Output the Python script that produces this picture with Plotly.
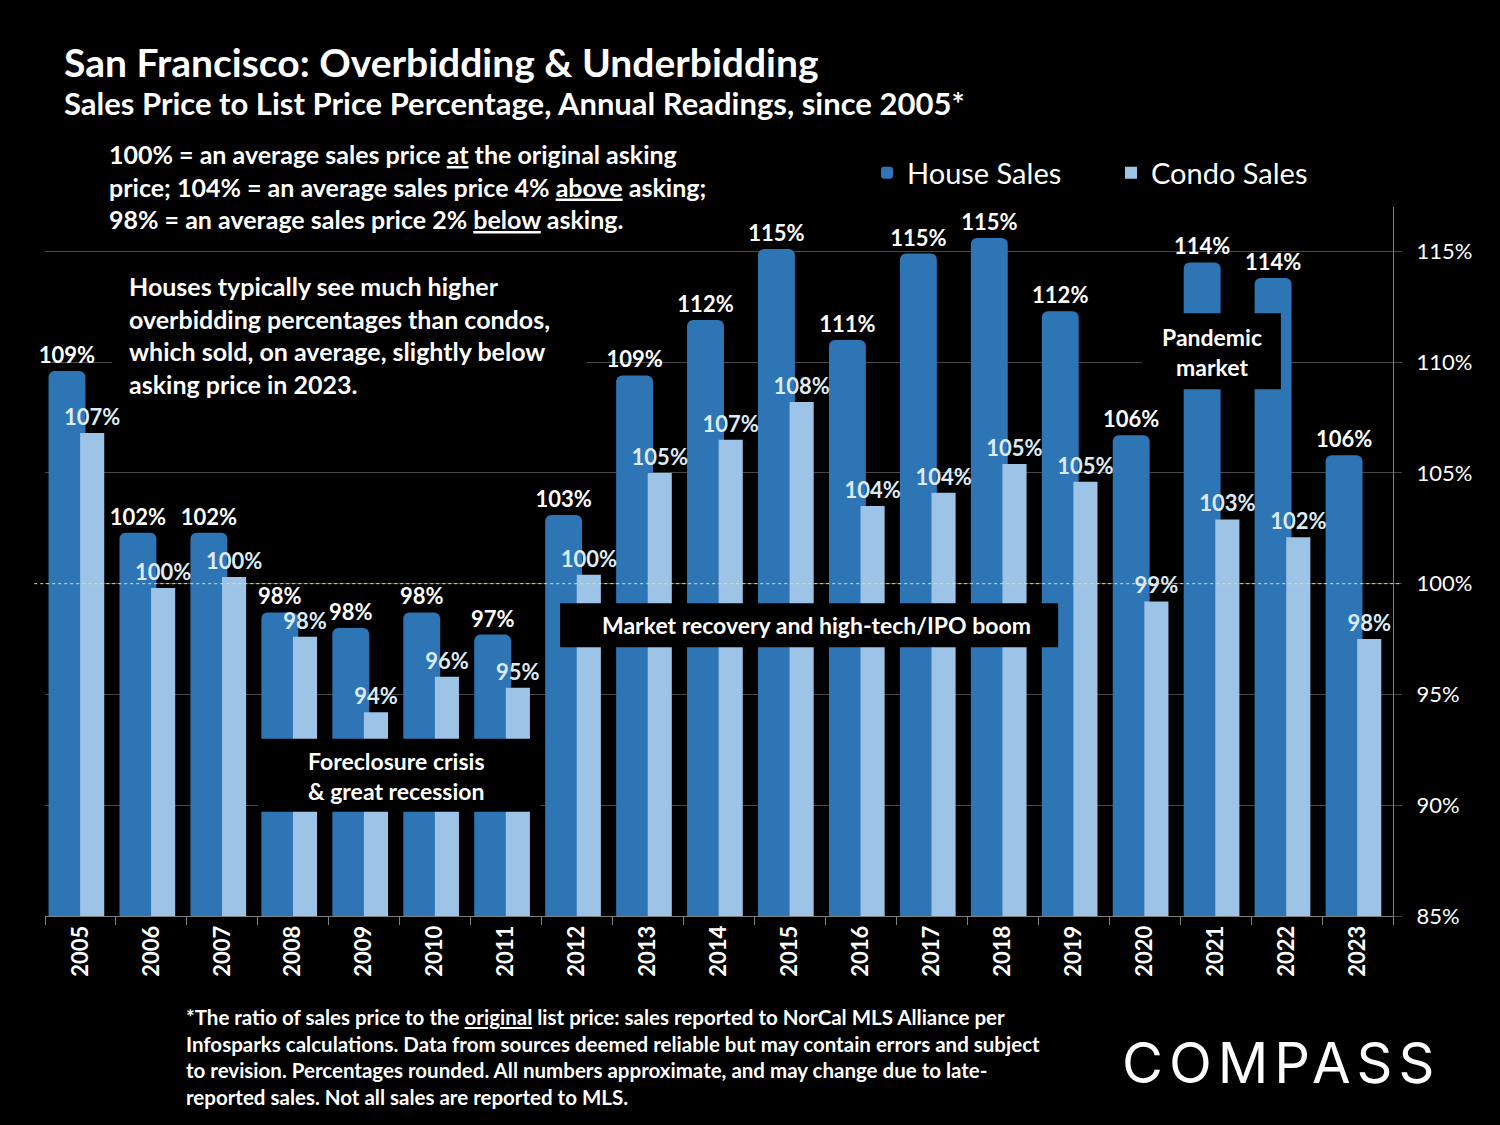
import plotly.graph_objects as go

years = [str(y) for y in range(2005, 2024)]
house_pct = [109.6, 102.3, 102.3, 98.7, 98.0, 98.7, 97.7, 103.1, 109.4, 111.9,
             115.1, 111.0, 114.9, 115.6, 112.3, 106.7, 114.5, 113.8, 105.8]
condo_pct = [106.8, 99.8, 100.3, 97.6, 94.2, 95.8, 95.3, 100.4, 105.0, 106.5,
             108.2, 103.5, 104.1, 105.4, 104.6, 99.2, 102.9, 102.1, 97.5]
house_labels = ["109%", "102%", "102%", "98%", "98%", "98%", "97%", "103%", "109%", "112%",
                "115%", "111%", "115%", "115%", "112%", "106%", "114%", "114%", "106%"]
condo_labels = ["107%", "100%", "100%", "98%", "94%", "96%", "95%", "100%", "105%", "107%",
                "108%", "104%", "104%", "105%", "105%", "99%", "103%", "102%", "98%"]
y_ticks = [85, 90, 95, 100, 105, 110, 115]
y_tick_text = ["85%", "90%", "95%", "100%", "105%", "110%", "115%"]

FONT = "Lato"
HOUSE_C = "#2E75B6"
CONDO_C = "#9DC3E6"

# plot area in pixels
L, R, T, B = 45, 1393, 207, 916
W, H = 1500, 1125


def px(x):
    return (x - L) / (R - L)


def py(y):
    return (B - y) / (B - T)


fig = go.Figure()
fig.add_trace(go.Bar(
    x=years, y=house_pct, name="House Sales",
    marker=dict(color=HOUSE_C, cornerradius=6, line=dict(width=0)),
    offset=-0.45, width=0.52,
    text=house_labels, textposition="outside", constraintext="none", cliponaxis=False,
    textfont=dict(family=FONT, size=22, color="white", weight="bold"),
))
fig.add_trace(go.Bar(
    x=years, y=condo_pct, name="Condo Sales",
    marker=dict(color=CONDO_C, line=dict(width=0)),
    offset=-0.005, width=0.34,
    text=condo_labels, textposition="outside", constraintext="none", cliponaxis=False,
    textfont=dict(family=FONT, size=22, color="#DDEBF7", weight="bold"),
))

shapes = [
    # 100% reference line
    dict(type="line", xref="paper", yref="y", x0=-0.008, x1=1.005, y0=100, y1=100,
         line=dict(color="#E8E86A", width=1, dash="dot"), layer="above"),
    # black annotation boxes
    dict(type="rect", xref="x", yref="y", x0=2.5, x1=6.48, y0=89.7, y1=93.0,
         fillcolor="black", line=dict(width=0), layer="above"),
    dict(type="rect", xref="x", yref="y", x0=6.76, x1=13.78, y0=97.13, y1=99.12,
         fillcolor="black", line=dict(width=0), layer="above"),
    dict(type="rect", xref="x", yref="y", x0=14.96, x1=16.92, y0=108.77, y1=112.2,
         fillcolor="black", line=dict(width=0), layer="above"),
    dict(type="rect", xref="paper", yref="paper", x0=px(112), x1=px(586), y0=py(405), y1=py(262),
         fillcolor="black", line=dict(width=0), layer="above"),
]

U = '<span style="text-decoration:underline">{}</span>'
ann = []
ann.append(dict(xref="paper", yref="paper", x=px(62), y=py(62), xanchor="left", yanchor="middle",
                text="<b>San Francisco: Overbidding &amp; Underbidding</b>", showarrow=False,
                font=dict(family=FONT, size=39, color="white")))
ann.append(dict(xref="paper", yref="paper", x=px(62), y=py(103), xanchor="left", yanchor="middle",
                text="<b>Sales Price to List Price Percentage, Annual Readings, since 2005*</b>",
                showarrow=False, font=dict(family=FONT, size=31, color="white")))
ann.append(dict(xref="paper", yref="paper", x=px(107), y=py(186), xanchor="left", yanchor="middle",
                align="left", showarrow=False,
                text=("<b>100% = an average sales price " + U.format("at") + " the original asking<br>"
                      "price; 104% = an average sales price 4% " + U.format("above") + " asking;<br>"
                      "98% = an average sales price 2% " + U.format("below") + " asking.</b>"),
                font=dict(family=FONT, size=25, color="white")))
ann.append(dict(xref="paper", yref="paper", x=px(127), y=py(335), xanchor="left", yanchor="middle",
                align="left", showarrow=False,
                text=("<b>Houses typically see much higher<br>"
                      "overbidding percentages than condos,<br>"
                      "which sold, on average, slightly below<br>"
                      "asking price in 2023.</b>"),
                font=dict(family=FONT, size=25, color="white")))
ann.append(dict(xref="x", yref="y", x=4.45, y=91.3, xanchor="center", yanchor="middle",
                showarrow=False, text="<b>Foreclosure crisis<br>&amp; great recession</b>",
                font=dict(family=FONT, size=23, color="white")))
ann.append(dict(xref="x", yref="y", x=10.38, y=98.13, xanchor="center", yanchor="middle",
                showarrow=False, text="<b>Market recovery and high-tech/IPO boom</b>",
                font=dict(family=FONT, size=23, color="white")))
ann.append(dict(xref="x", yref="y", x=15.95, y=110.45, xanchor="center", yanchor="middle",
                showarrow=False, text="<b>Pandemic<br>market</b>",
                font=dict(family=FONT, size=23, color="white")))
ann.append(dict(xref="paper", yref="paper", x=px(184), y=py(1057), xanchor="left", yanchor="middle",
                align="left", showarrow=False,
                text=("<b>*The ratio of sales price to the " + U.format("original") +
                      " list price: sales reported to NorCal MLS Alliance per<br>"
                      "Infosparks calculations. Data from sources deemed reliable but may contain errors and subject<br>"
                      "to revision. Percentages rounded. All numbers approximate, and may change due to late-<br>"
                      "reported sales. Not all sales are reported to MLS.</b>"),
                font=dict(family=FONT, size=20.5, color="white")))
ann.append(dict(xref="paper", yref="paper", x=px(1281), y=py(1063), xanchor="center", yanchor="middle",
                showarrow=False,
                text='<span style="letter-spacing:6px">COMPASS</span>',
                font=dict(family="Inter", size=56, color="white", weight=400)))

fig.update_layout(
    width=W, height=H,
    paper_bgcolor="black", plot_bgcolor="black",
    margin=dict(l=L, r=W - R, t=T, b=H - B, pad=0),
    barmode="overlay",
    showlegend=True,
    legend=dict(orientation="h", x=px(867), y=py(173), xanchor="left", yanchor="middle",
                font=dict(family=FONT, size=29, color="white"), bgcolor="rgba(0,0,0,0)",
                entrywidth=199, itemsizing="constant", traceorder="normal"),
    xaxis=dict(type="category", showgrid=False, showline=True, linecolor="#7F7F7F", linewidth=1,
               ticks="outside", tickson="boundaries", ticklen=8, tickcolor="#7F7F7F",
               tickangle=-90, tickfont=dict(family=FONT, size=22, color="white", weight="bold"),
               range=[-0.5, 18.5], fixedrange=True),
    yaxis=dict(side="right", range=[85, 117], tickvals=y_ticks, ticktext=y_tick_text,
               tickmode="array",
               showgrid=True, gridcolor="#484848", gridwidth=1, zeroline=False,
               showline=True, linecolor="#7F7F7F", linewidth=1,
               ticks="outside", ticklen=8, tickcolor="#484848", ticklabelstandoff=10,
               tickfont=dict(family=FONT, size=22, color="white")),
    font=dict(family=FONT, color="white"),
    shapes=shapes,
    annotations=ann,
)

fig.write_html("out.html", config={"displayModeBar": False},
               post_script="document.body.style.margin='0px';")
